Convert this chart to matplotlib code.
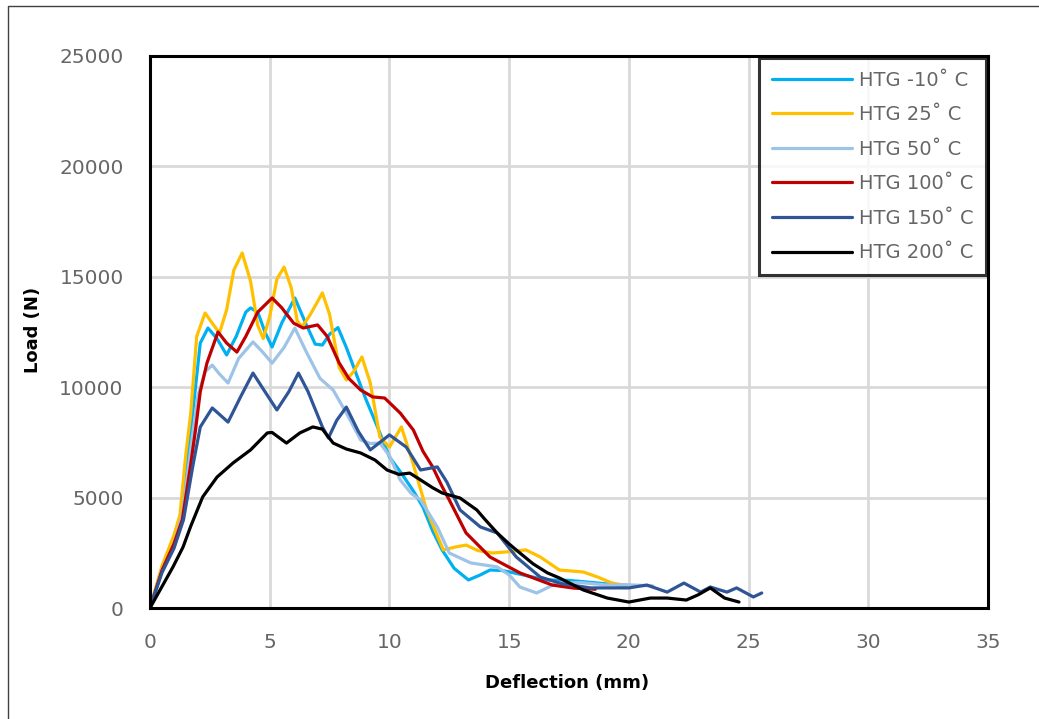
import matplotlib
matplotlib.use("Agg")
import matplotlib.pyplot as plt
from matplotlib.patches import Rectangle

# Load-deflection curves for each test temperature (x in mm, y in N)
labels = ["HTG -10˚ C", "HTG 25˚ C", "HTG 50˚ C", "HTG 100˚ C", "HTG 150˚ C", "HTG 200˚ C"]
colors = ["#00B0F0", "#FFC000", "#9DC3E6", "#C00000", "#2F5597", "#000000"]

x_m10 = [0, 0.5, 1.0, 1.3, 1.6, 1.85, 2.1, 2.42, 2.8, 3.2, 3.6, 4.0, 4.2, 4.5, 4.8, 5.1, 5.5, 6.05,
         6.5, 6.9, 7.2, 7.5, 7.85, 8.2, 8.6, 9.0, 9.5, 10.0, 10.5, 11.0, 11.4, 11.8, 12.2, 12.7, 13.3,
         13.8, 14.2, 14.7, 15.2, 16.0, 16.6, 17.5, 18.5, 19.5, 20.2]
y_m10 = [0, 1800, 3100, 4300, 7000, 9500, 12000, 12680, 12200, 11460, 12300, 13400, 13590, 13400,
         12500, 11820, 12900, 14040, 12900, 11950, 11910, 12400, 12700, 11800, 10640, 9500, 8200,
         6840, 6100, 5300, 4570, 3500, 2630, 1800, 1270, 1500, 1720, 1700, 1590, 1400, 1270, 1250,
         1150, 1050, 1000]

x_25 = [0, 0.5, 1.0, 1.25, 1.5, 1.7, 1.95, 2.3, 2.6, 2.9, 3.2, 3.5, 3.85, 4.2, 4.5, 4.73, 5.0, 5.3,
        5.6, 5.9, 6.15, 6.35, 6.7, 7.2, 7.5, 7.9, 8.2, 8.5, 8.85, 9.2, 9.6, 10.0, 10.5, 11.0, 11.55,
        12.25, 12.7, 13.2, 13.7, 14.3, 15.0, 15.7, 16.3, 17.1, 18.1, 18.7, 19.3, 20.0]
y_25 = [0, 1900, 3300, 4200, 7000, 8800, 12300, 13360, 12900, 12450, 13500, 15300, 16080, 14800,
        12800, 12200, 13200, 14900, 15440, 14500, 13000, 12730, 13300, 14270, 13300, 10900, 10330,
        10700, 11370, 10200, 7740, 7290, 8200, 6500, 4440, 2630, 2750, 2850, 2600, 2490, 2550, 2630,
        2310, 1720, 1630, 1400, 1130, 1000]

x_50 = [0, 0.5, 1.0, 1.35, 1.7, 2.0, 2.3, 2.6, 2.9, 3.26, 3.7, 4.3, 4.7, 5.1, 5.6, 6.05, 6.55, 7.1,
        7.65, 8.2, 8.8, 9.2, 9.6, 10.0, 10.45, 10.9, 11.3, 12.0, 12.5, 13.4, 14.5, 15.0, 15.45, 16.15,
        17.0, 18.0, 19.0, 20.0, 21.0]
y_50 = [0, 1700, 2900, 4200, 7200, 9600, 10700, 11000, 10600, 10190, 11300, 12050, 11600, 11090,
        11800, 12680, 11550, 10400, 9870, 8830, 7610, 7450, 7470, 6900, 5800, 5200, 4890, 3670, 2490,
        2040, 1860, 1500, 950, 680, 1130, 1150, 1050, 1050, 1000]

x_100 = [0, 0.5, 1.0, 1.35, 1.7, 1.9, 2.1, 2.38, 2.84, 3.2, 3.63, 4.0, 4.5, 5.1, 5.5, 6.0, 6.4, 7.0,
         7.4, 7.9, 8.3, 8.8, 9.3, 9.8, 10.45, 11.0, 11.4, 11.8, 12.2, 12.5, 13.2, 14.2, 15.45, 16.8,
         17.7, 18.6]
y_100 = [0, 1700, 2900, 4000, 6500, 8060, 9800, 11100, 12500, 12000, 11590, 12300, 13400, 14040,
         13600, 12900, 12680, 12820, 12300, 11100, 10400, 9870, 9560, 9510, 8830, 8060, 7100, 6400,
         5500, 4890, 3400, 2310, 1590, 1040, 900, 850]

x_150 = [0, 0.5, 1.0, 1.4, 1.8, 2.1, 2.6, 3.26, 3.8, 4.3, 4.8, 5.3, 5.8, 6.2, 6.6, 7.2, 7.45, 7.8,
         8.2, 8.7, 9.2, 10.0, 10.7, 11.3, 12.0, 12.4, 12.95, 13.8, 14.5, 15.3, 16.3, 17.2, 18.4, 20.0,
         20.75, 21.6, 22.3, 23.0, 23.4, 24.1, 24.5, 25.2, 25.55]
y_150 = [0, 1600, 2700, 4000, 6500, 8200, 9060, 8420, 9600, 10640, 9800, 8970, 9800, 10640, 9800,
         8200, 7700, 8500, 9100, 8000, 7160, 7840, 7290, 6250, 6390, 5700, 4440, 3670, 3400, 2310,
         1400, 1100, 910, 910, 1040, 720, 1130, 720, 950, 720, 910, 500, 680]

x_200 = [0, 0.42, 0.96, 1.38, 1.7, 2.2, 2.8, 3.47, 4.2, 4.9, 5.1, 5.7, 6.26, 6.8, 7.2, 7.65, 8.2,
         8.8, 9.4, 9.9, 10.4, 10.85, 11.3, 11.8, 12.2, 12.95, 13.65, 14.0, 14.5, 15.0, 15.45, 16.0,
         16.6, 17.1, 18.1, 19.1, 20.0, 20.9, 21.6, 22.4, 22.9, 23.4, 24.0, 24.6]
y_200 = [0, 815, 1860, 2760, 3700, 5030, 5930, 6570, 7160, 7930, 7950, 7470, 7930, 8200, 8100, 7470,
         7200, 7020, 6700, 6250, 6050, 6110, 5800, 5450, 5210, 4980, 4440, 4000, 3400, 2900, 2490,
         2000, 1590, 1360, 815, 450, 270, 450, 450, 360, 600, 910, 450, 270]

series_x = [x_m10, x_25, x_50, x_100, x_150, x_200]
series_y = [y_m10, y_25, y_50, y_100, y_150, y_200]

x_ticks = [0, 5, 10, 15, 20, 25, 30, 35]
y_ticks = [0, 5000, 10000, 15000, 20000, 25000]

W, H = 1039, 719
fig = plt.figure(figsize=(W / 100, H / 100), dpi=100)
ax = fig.add_axes([150 / W, 1 - 608 / H, (988 - 150) / W, (608 - 56) / H])

for xs, ys, c, lab in zip(series_x, series_y, colors, labels):
    ax.plot(xs, ys, color=c, lw=2.3, label=lab, solid_joinstyle="round", solid_capstyle="round", zorder=3)

ax.set_xlim(0, 35)
ax.set_ylim(0, 25000)
ax.set_xticks(x_ticks)
ax.set_yticks(y_ticks)
ax.grid(True, color="#d9d9d9", lw=2.0, zorder=0)
ax.tick_params(length=0, labelsize=14.5, labelcolor="#666666")
ax.tick_params(axis="x", pad=18)
ax.tick_params(axis="y", pad=19)
for t in ax.get_xticklabels() + ax.get_yticklabels():
    t.set_fontfamily("DejaVu Sans")
for s in ax.spines.values():
    s.set_linewidth(2.2)
    s.set_color("black")
    s.set_zorder(5)

ax.set_xlabel("Deflection (mm)", fontsize=13, fontweight="bold", family="DejaVu Sans", va="center")
ax.set_ylabel("Load (N)", fontsize=13, fontweight="bold", family="DejaVu Sans", va="center")
ax.xaxis.set_label_coords((567 - 150) / (988 - 150), -(683 - 608) / (608 - 56))
ax.yaxis.set_label_coords(-(150 - 33) / (988 - 150), (608 - 330) / (608 - 56))

leg = ax.legend(loc="upper right", bbox_to_anchor=(1.0, 1.0), frameon=True, fancybox=False,
                fontsize=14, handlelength=4.1, labelspacing=0.8, borderpad=0.65,
                handletextpad=0.36, borderaxespad=0.1)
leg.get_frame().set_edgecolor("black")
leg.get_frame().set_linewidth(2.2)
for t in leg.get_texts():
    t.set_color("#666666")
for h in leg.get_lines():
    h.set_linewidth(2.3)

# Thin outer border along the top and left of the chart area
fig.add_artist(Rectangle((8 / W, -0.1), 1.2, 1.1 - 6 / H, transform=fig.transFigure,
                         fill=False, edgecolor="#404040", lw=1.0))

fig.savefig("out.png", dpi=100, facecolor="white")
